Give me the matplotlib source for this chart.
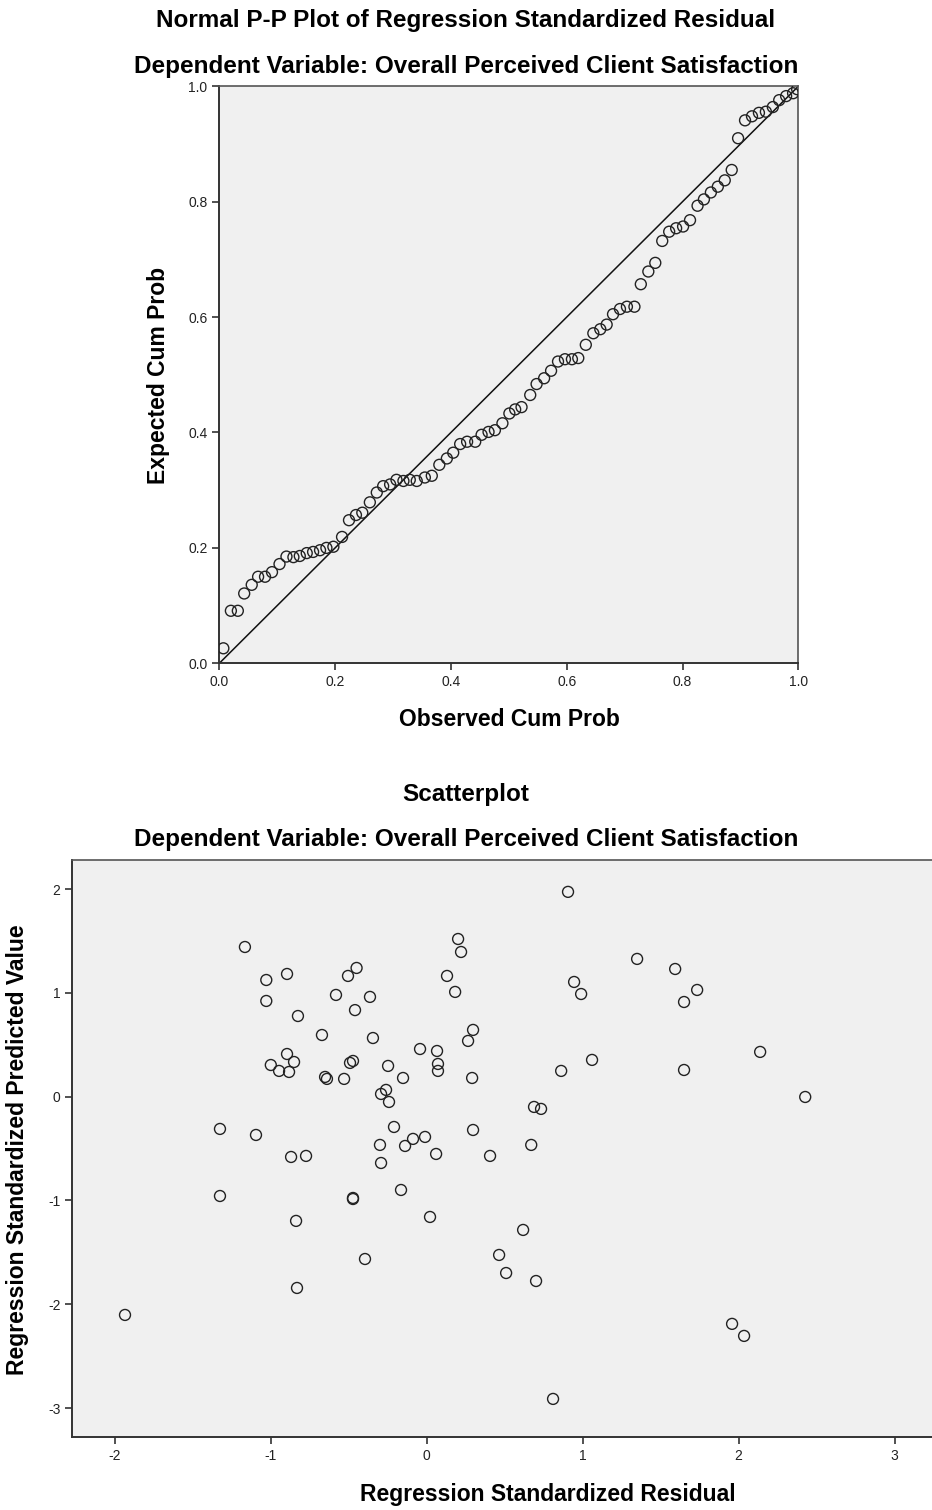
import numpy as np
import matplotlib.pyplot as plt

plt.rcParams["font.family"] = ["Liberation Sans", "DejaVu Sans"]

# Données P-P
obs_cum = [0.007, 0.020, 0.032, 0.043, 0.056, 0.067, 0.079, 0.091, 0.104, 0.116,
           0.128, 0.139, 0.151, 0.162, 0.174, 0.185, 0.197, 0.212, 0.224, 0.236,
           0.247, 0.260, 0.272, 0.283, 0.295, 0.306, 0.318, 0.329, 0.341, 0.355,
           0.367, 0.380, 0.393, 0.404, 0.416, 0.428, 0.442, 0.453, 0.465, 0.476,
           0.489, 0.501, 0.511, 0.522, 0.537, 0.548, 0.561, 0.573, 0.585, 0.597,
           0.609, 0.620, 0.633, 0.646, 0.658, 0.669, 0.680, 0.692, 0.704, 0.717,
           0.728, 0.741, 0.753, 0.765, 0.777, 0.789, 0.801, 0.813, 0.826, 0.837,
           0.849, 0.861, 0.873, 0.885, 0.896, 0.908, 0.920, 0.932, 0.944, 0.956,
           0.967, 0.979, 0.991, 0.998]
exp_cum = [0.026, 0.091, 0.091, 0.121, 0.136, 0.150, 0.150, 0.158, 0.172, 0.185,
           0.184, 0.186, 0.191, 0.193, 0.196, 0.200, 0.202, 0.219, 0.248, 0.257,
           0.261, 0.279, 0.296, 0.307, 0.310, 0.318, 0.316, 0.318, 0.316, 0.322,
           0.325, 0.344, 0.355, 0.365, 0.380, 0.384, 0.384, 0.396, 0.401, 0.404,
           0.416, 0.433, 0.440, 0.444, 0.465, 0.484, 0.494, 0.507, 0.523, 0.527,
           0.527, 0.529, 0.552, 0.572, 0.579, 0.587, 0.605, 0.614, 0.618, 0.618,
           0.657, 0.679, 0.694, 0.732, 0.748, 0.754, 0.757, 0.768, 0.793, 0.804,
           0.816, 0.826, 0.837, 0.855, 0.910, 0.941, 0.948, 0.954, 0.956, 0.964,
           0.976, 0.983, 0.988, 0.995]

# Données du nuage de points
resid = [0.906, -1.166, 0.201, 0.220, 1.349, -1.029, -0.896, -0.450, -0.505, 0.130,
         0.945, 1.593, 1.734, 1.650, 0.990, 0.182, -0.582, -0.364, -1.029, -0.460,
         -0.826, -0.672, -0.345, 0.297, 0.265, -0.043, 0.066, -0.896, -0.851, -1.000,
         -0.947, -0.883, -0.492, -0.473, -0.248, 0.072, 0.072, 1.060, 2.138, 0.862,
         1.650, -0.652, -0.640, -0.530, -0.152, 0.291, -0.293, -0.261, -0.242, 2.427,
         0.688, 0.733, -1.326, -1.095, -0.210, 0.297, -0.088, -0.011, -0.300, -0.139,
         -0.870, -0.774, -0.293, 0.060, 0.406, 0.670, -1.326, -0.473, -0.473, -0.165,
         -0.838, 0.021, 0.618, -0.396, 0.464, 0.509, 0.701, -0.832, -1.935, 1.958,
         2.035, 0.810]
pred = [1.973, 1.442, 1.519, 1.394, 1.327, 1.124, 1.182, 1.240, 1.163, 1.163,
        1.105, 1.230, 1.028, 0.912, 0.989, 1.009, 0.980, 0.961, 0.922, 0.834,
        0.777, 0.594, 0.565, 0.643, 0.537, 0.459, 0.440, 0.411, 0.334, 0.305,
        0.248, 0.238, 0.325, 0.344, 0.296, 0.315, 0.248, 0.354, 0.431, 0.248,
        0.257, 0.190, 0.171, 0.171, 0.180, 0.180, 0.026, 0.065, -0.051, -0.003,
        -0.099, -0.118, -0.311, -0.369, -0.292, -0.321, -0.407, -0.388, -0.465, -0.475,
        -0.581, -0.571, -0.639, -0.552, -0.571, -0.465, -0.957, -0.986, -0.976, -0.899,
        -1.197, -1.159, -1.284, -1.564, -1.525, -1.699, -1.776, -1.843, -2.103, -2.189,
        -2.305, -2.912]

pp_ticks = [0.0, 0.2, 0.4, 0.6, 0.8, 1.0]
sc_xticks = [-2, -1, 0, 1, 2, 3]
sc_yticks = [2, 1, 0, -1, -2, -3]

W, H = 932, 1510
fig = plt.figure(figsize=(W / 100, H / 100), dpi=100)
bg = "#f0f0f0"


def style_axes(ax):
    ax.set_facecolor(bg)
    for s in ["left", "bottom"]:
        ax.spines[s].set_color("#333333")
        ax.spines[s].set_linewidth(1.4)
    for s in ["top", "right"]:
        ax.spines[s].set_color("#555555")
        ax.spines[s].set_linewidth(1.2)
    ax.tick_params(direction="out", length=5, width=1.2, color="#333333",
                   labelsize=10, labelcolor="#222222", top=False, right=False)


def txt(x, y, s, **kw):
    # position en pixels (origine en haut à gauche)
    fig.text(x / W, 1 - y / H, s, ha="center", va="center",
             fontweight="bold", **kw)


# --- P-P plot ---
ax1 = fig.add_axes([219.3 / W, 1 - 663.3 / H, 579 / W, 577 / H])
style_axes(ax1)
ax1.plot([0, 1], [0, 1], color="#111111", lw=1.1, zorder=2)
ax1.scatter(obs_cum, exp_cum, s=62, facecolors="none", edgecolors="#222222",
            linewidths=1.0, zorder=3)
ax1.set_xlim(0, 1)
ax1.set_ylim(0, 1)
ax1.set_xticks(pp_ticks)
ax1.set_yticks(pp_ticks)
ax1.set_xticklabels([f"{t:.1f}" for t in pp_ticks])
ax1.set_yticklabels([f"{t:.1f}" for t in pp_ticks])

txt(466, 20, "Normal P-P Plot of Regression Standardized Residual", fontsize=17.5)
txt(466, 66, "Dependent Variable: Overall Perceived Client Satisfaction", fontsize=17.5)
txt(509, 720, "Observed Cum Prob", fontsize=16.5)
txt(158, 375, "Expected Cum Prob", fontsize=16.5, rotation=90)

# --- Scatterplot ---
ax2 = fig.add_axes([72.3 / W, 1 - 1436.7 / H, (1024 - 72.3) / W, 576.7 / H])
style_axes(ax2)
ax2.scatter(resid, pred, s=62, facecolors="none", edgecolors="#222222",
            linewidths=1.0, zorder=3)
ax2.set_xlim(-2.273, 3.83)
ax2.set_ylim(-3.276, 2.28)
ax2.set_xticks(sc_xticks)
ax2.set_yticks(sc_yticks)
ax2.set_xticklabels([str(t) for t in sc_xticks])
ax2.set_yticklabels([str(t) for t in sc_yticks])

txt(466, 795, "Scatterplot", fontsize=17.5)
txt(466, 840, "Dependent Variable: Overall Perceived Client Satisfaction", fontsize=17.5)
txt(548, 1495, "Regression Standardized Residual", fontsize=16.5)
txt(18, 1150, "Regression Standardized Predicted Value", fontsize=16.5, rotation=90)

fig.savefig("out.png", dpi=100, facecolor="white")
